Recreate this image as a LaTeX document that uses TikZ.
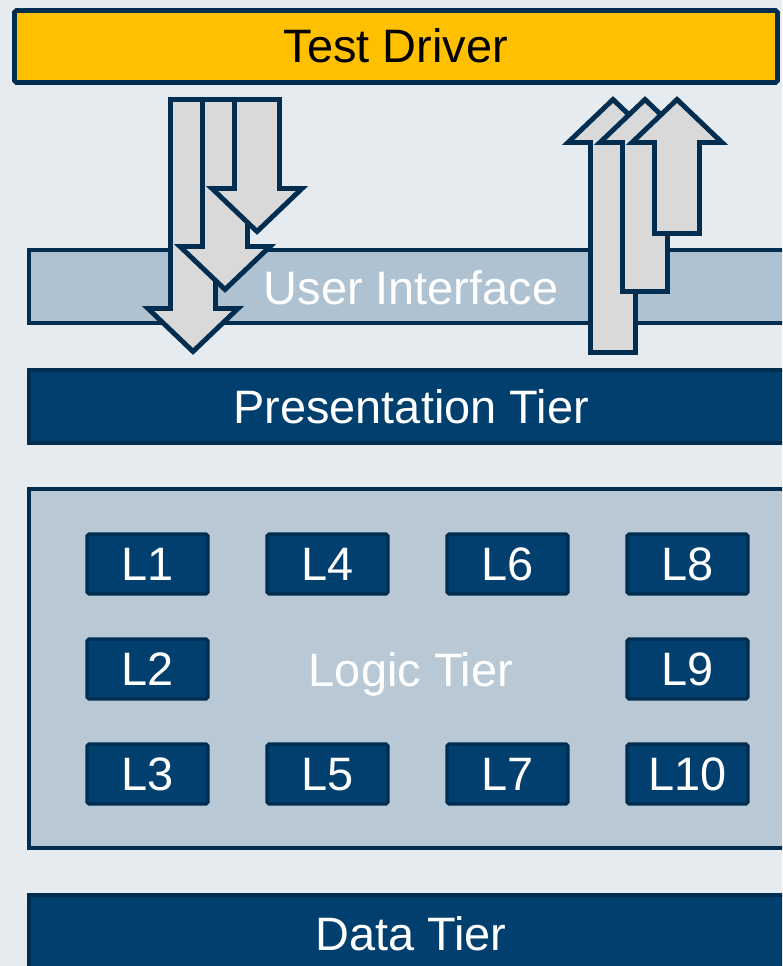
\documentclass[tikz,border=0pt]{standalone}
\usepackage{fontspec}
\setmainfont{Liberation Sans}
\definecolor{bgcol}{HTML}{E6EBEF}
\definecolor{navy}{HTML}{002D50}
\definecolor{tierblue}{HTML}{003F6E}
\definecolor{uiblue}{HTML}{AEC2D2}
\definecolor{logicblue}{HTML}{B8C9D5}
\definecolor{driver}{HTML}{FFC000}
\definecolor{arrowgray}{HTML}{D9D9D9}
\tikzset{
  lbl/.style={font=\fontsize{26.7}{32}\selectfont, text height=19pt, text depth=0pt, inner sep=0pt},
  tierbox/.style={draw=navy, line width=2.6pt, fill=#1},
  lbox/.style={draw=navy, line width=1.8pt, fill=tierblue, rounded corners=1pt,
    minimum width=2.42cm, minimum height=1.2cm, text=white, lbl},
  flow/.style={draw=navy, line width=2.8pt, fill=arrowgray}
}
\newcommand{\drawdown}[2]{
  \draw[flow] ({#1-22.5},99.5) -- ({#1+22.5},99.5) -- ({#1+22.5},{#2-43}) -- ({#1+45},{#2-43})
    -- (#1,#2) -- ({#1-45},{#2-43}) -- ({#1-22.5},{#2-43}) -- cycle;
}
\newcommand{\drawup}[2]{
  \draw[flow] ({#1-22.5},#2) -- ({#1+22.5},#2) -- ({#1+22.5},142.5) -- ({#1+45},142.5)
    -- (#1,99.5) -- ({#1-45},142.5) -- ({#1-22.5},142.5) -- cycle;
}
\begin{document}
\begin{tikzpicture}[x=0.02cm,y=-0.02cm]
  \useasboundingbox (0,0) rectangle (782,966);
  \clip (0,0) rectangle (782,966);
  \fill[bgcol] (0,0) rectangle (782,966);

  % tiers
  \draw[tierbox=driver, rounded corners=1pt] (14.5,10.5) rectangle (777.5,82.5);
  \node[lbl] (td) at (396,46) {Test Driver};
  \draw[tierbox=uiblue] (29,250) rectangle (800,323);
  \node[lbl, text=white] (ui) at (411,288) {User Interface};
  \draw[tierbox=tierblue] (29,370) rectangle (800,443);
  \node[lbl, text=white] (pres) at (411,407) {Presentation Tier};
  \draw[tierbox=logicblue] (29,489) rectangle (800,848);
  \node[lbl, text=white] (logic) at (411,670) {Logic Tier};
  \draw[tierbox=tierblue] (29,895) rectangle (800,990);
  \node[lbl, text=white] (data) at (411,934) {Data Tier};

  % logic units
  \foreach \name/\x/\y in {1/147.5/564, 2/147.5/669, 3/147.5/774, 4/327.5/564, 5/327.5/774,
      6/507.5/564, 7/507.5/774, 8/687.5/564, 9/687.5/669, 10/687.5/774}
    \node[lbox] (l\name) at (\x,\y) {L\name};

  % calls and results
  \drawdown{193}{351.5}
  \drawdown{225}{289.5}
  \drawdown{257}{231.5}
  \drawup{613}{352.5}
  \drawup{645}{291.5}
  \drawup{677}{233.5}
\end{tikzpicture}
\end{document}
